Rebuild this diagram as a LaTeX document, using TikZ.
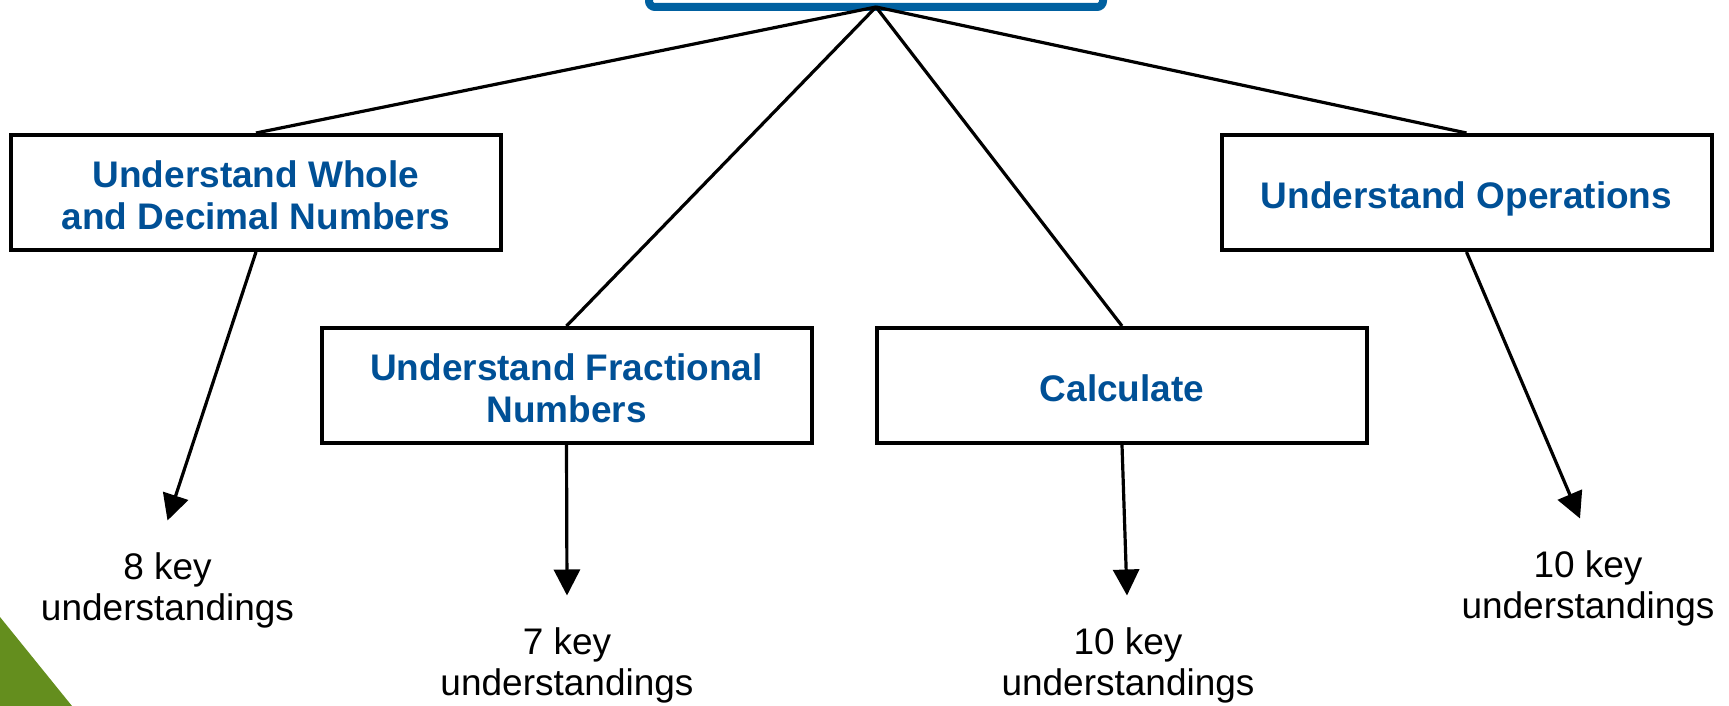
\documentclass[tikz,border=0pt]{standalone}
\usepackage{fontspec}
\setmainfont{Liberation Sans}
\usepackage{tikz}
\usetikzlibrary{arrows.meta}
\definecolor{topicblue}{RGB}{0,80,150}
\definecolor{rootblue}{RGB}{0,96,160}
\definecolor{cornergreen}{RGB}{100,142,30}
\tikzstyle{root} = [rectangle, draw=rootblue, line width=4pt, rounded corners=3pt, minimum width=227pt, minimum height=80pt, outer sep=0pt]
\tikzstyle{topic} = [rectangle, draw=black, line width=2pt, minimum width=245pt, minimum height=57.5pt, align=center, text height=16pt, text depth=0pt, text=topicblue, font=\fontsize{18.5}{21}\selectfont\bfseries]
\tikzstyle{topic2} = [topic, text height=37pt]
\tikzstyle{keycount} = [align=center, inner sep=0pt, font=\fontsize{18.5}{20.5}\selectfont]
\tikzstyle{branch} = [draw, line width=1.6pt]
\tikzstyle{line} = [draw, line width=1.6pt, -{Triangle[length=13pt, width=13pt]}]

\begin{document}
\begin{tikzpicture}[x=0.5pt, y=-0.5pt]
  \useasboundingbox (0,0) rectangle (1729,706);
  \clip (0,0) rectangle (1729,706);
  %% corner
  \fill [cornergreen] (0,617) -- (72,706) -- (0,706) -- cycle;
  %% nodes
  % root box, cut off by the top edge
  \node [root] (root) at (876,-73) {};
  % topics
  \node [topic2] (whole) at (256,192.5) {Understand Whole\\and Decimal Numbers};
  \node [topic2] (fractional) at (566.5,385.5) {Understand Fractional\\Numbers};
  \node [topic] (calculate) at (1122,385.5) {Calculate};
  \node [topic] (operations) at (1466.5,192.5) {Understand Operations};
  % key understandings
  \node [keycount, anchor=north] (whole-keys) at (167.5,552.5) {8 key\\understandings};
  \node [keycount, anchor=north] (fractional-keys) at (567,627.5) {7 key\\understandings};
  \node [keycount, anchor=north] (calculate-keys) at (1128,627.5) {10 key\\understandings};
  \node [keycount, anchor=north] (operations-keys) at (1588,550.5) {10 key\\understandings};
  %% edges
  % root to topics
  \path [branch] (root.south) -- (whole.north);
  \path [branch] (root.south) -- (fractional.north);
  \path [branch] (root.south) -- (calculate.north);
  \path [branch] (root.south) -- (operations.north);
  % topics to key understandings
  \path [line] (whole.south) -- ([yshift=16pt]whole-keys.north);
  \path [line] (fractional.south) -- ([yshift=16pt]fractional-keys.north);
  \path [line] (calculate.south) -- ([xshift=-0.5pt, yshift=16pt]calculate-keys.north);
  \path [line] (operations.south) -- ([xshift=-4pt, yshift=16pt]operations-keys.north);
\end{tikzpicture}
\end{document}
